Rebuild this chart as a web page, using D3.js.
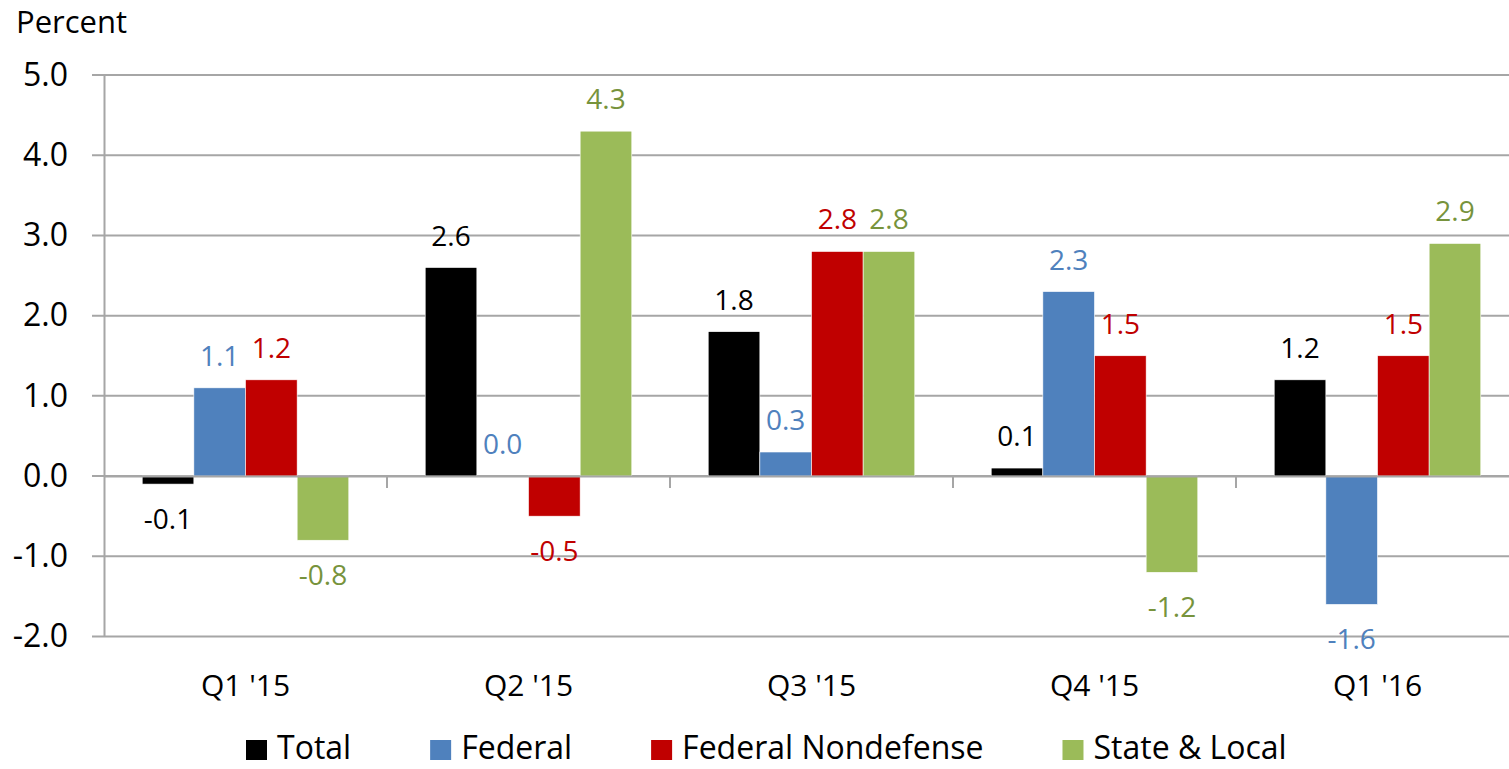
<!DOCTYPE html>
<html>
<head>
<meta charset="utf-8">
<script src="https://cdn.jsdelivr.net/npm/d3@7"></script>
<style>
  body { margin: 0; background: #fff; }
  svg { display: block; font-family: "Open Sans", sans-serif; }
</style>
</head>
<body>
<script>
const svgW = 1509;
const svgH = 769;

// data
const quarters = ["Q1 '15", "Q2 '15", "Q3 '15", "Q4 '15", "Q1 '16"];
const seriesNames = ["Total", "Federal", "Federal Nondefense", "State & Local"];
const total = [-0.1, 2.6, 1.8, 0.1, 1.2];
const federal = [1.1, 0.0, 0.3, 2.3, -1.6];
const nondefense = [1.2, -0.5, 2.8, 1.5, 1.5];
const stateLocal = [-0.8, 4.3, 2.8, -1.2, 2.9];
const yTicks = [-2, -1, 0, 1, 2, 3, 4, 5];

const barColors = ['#000000', '#4f81bd', '#c00000', '#9bbb59'];
const labelColors = ['#000000', '#4f81bd', '#c00000', '#77933c'];
const gridColor = '#a6a6a6';

const seriesValues = [total, federal, nondefense, stateLocal];
const rows = [];
quarters.forEach((q, i) => {
  seriesValues.forEach((vals, s) => {
    rows.push({ q: q, s: s, v: vals[i] });
  });
});

const svg = d3.select('body')
              .append('svg')
              .attr('width', svgW)
              .attr('height', svgH);

// plot area runs slightly past the right edge, like the source image
const x0 = d3.scaleBand()
             .domain(quarters)
             .range([104, 1519])
             .paddingInner(0.27)
             .paddingOuter(0.135);
const x1 = d3.scaleBand()
             .domain(d3.range(seriesNames.length))
             .range([0, x0.bandwidth()]);
const y = d3.scaleLinear()
            .domain([-2, 5])
            .range([636.5, 75]);

// gridlines
svg.append('g')
  .selectAll('line')
  .data(yTicks)
  .enter()
  .append('line')
  .attr('x1', 92)
  .attr('x2', svgW)
  .attr('y1', d => y(d))
  .attr('y2', d => y(d))
  .attr('stroke', gridColor)
  .attr('stroke-width', 2);

// y axis
const yAxis = d3.axisLeft(y)
                .tickValues(yTicks)
                .tickFormat(d => d.toFixed(1))
                .tickSize(0)
                .tickPadding(36);
const gy = svg.append('g')
              .attr('transform', 'translate(104,0)')
              .call(yAxis);
gy.select('.domain').attr('stroke', gridColor).attr('stroke-width', 2);
gy.selectAll('text')
  .attr('font-size', 32)
  .attr('font-family', '"Open Sans", sans-serif')
  .attr('fill', '#000');

// bars
svg.append('g')
  .selectAll('rect')
  .data(rows)
  .enter()
  .append('rect')
  .attr('x', d => x0(d.q) + x1(d.s))
  .attr('y', d => y(Math.max(0, d.v)))
  .attr('width', x1.bandwidth())
  .attr('height', d => Math.abs(y(d.v) - y(0)))
  .attr('fill', d => barColors[d.s])
  .attr('stroke', '#fff')
  .attr('stroke-width', 0.6);

// category axis on the zero line
const xAxis = d3.axisBottom(x0).tickSize(0).tickPadding(0);
const gx = svg.append('g')
              .attr('transform', `translate(0, ${y(0)})`)
              .call(xAxis);
gx.select('.domain').attr('stroke', gridColor).attr('stroke-width', 2);
gx.selectAll('text').remove();

// boundary ticks between quarters
svg.append('g')
  .selectAll('line')
  .data(quarters.slice(1))
  .enter()
  .append('line')
  .attr('x1', d => x0(d) - x0.step() * x0.paddingInner() / 2)
  .attr('x2', d => x0(d) - x0.step() * x0.paddingInner() / 2)
  .attr('y1', y(0))
  .attr('y2', y(0) + 12)
  .attr('stroke', gridColor)
  .attr('stroke-width', 2);

// quarter labels
svg.append('g')
  .selectAll('text')
  .data(quarters)
  .enter()
  .append('text')
  .attr('x', d => x0(d) + x0.bandwidth() / 2)
  .attr('y', 696)
  .attr('text-anchor', 'middle')
  .attr('font-size', 30)
  .attr('fill', '#000')
  .text(d => d);

// value labels
svg.append('g')
  .selectAll('text')
  .data(rows)
  .enter()
  .append('text')
  .attr('x', d => x0(d.q) + x1(d.s) + x1.bandwidth() / 2)
  .attr('y', d => d.v >= 0 ? y(d.v) - 22 : y(d.v) + 45)
  .attr('text-anchor', 'middle')
  .attr('font-size', 28)
  .attr('fill', d => labelColors[d.s])
  .text(d => d.v.toFixed(1));

// axis title
svg.append('text')
  .attr('x', 16)
  .attr('y', 33)
  .attr('font-size', 31)
  .attr('fill', '#000')
  .text('Percent');

// legend
const legend = svg.append('g');
let lx = 246;
seriesNames.forEach((name, i) => {
  legend.append('rect')
    .attr('x', lx)
    .attr('y', 740)
    .attr('width', 21)
    .attr('height', 20)
    .attr('fill', barColors[i]);
  const t = legend.append('text')
    .attr('x', lx + 31)
    .attr('y', 759)
    .attr('font-size', 32)
    .attr('fill', '#000')
    .text(name);
  lx += 31 + t.node().getComputedTextLength() + 79;
});
</script>
</body>
</html>
